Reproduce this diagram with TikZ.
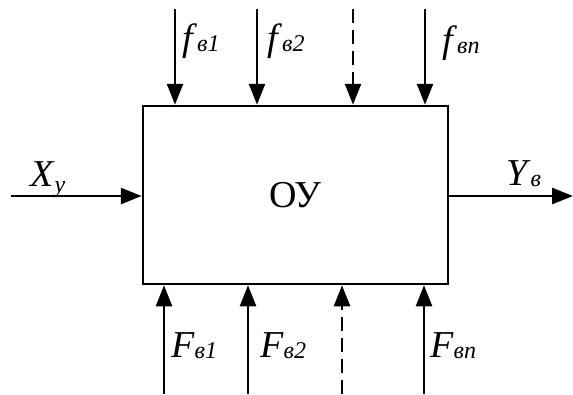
\documentclass[tikz,border=0pt]{standalone}
\usepackage{fontspec}
\setmainfont{Liberation Serif}
\usepackage{tikz}
\usetikzlibrary{arrows.meta,calc}
\newcommand{\lbl}[3][-1.5pt]{\textit{#2}\raisebox{#1}{\fontsize{24}{24}\selectfont\textit{#3}}}

\begin{document}
\begin{tikzpicture}[
  x=1pt, y=-1pt,
  ou/.style={draw, line width=2.5pt, minimum width=305pt, minimum height=178pt, inner sep=0pt, font=\fontsize{38}{38}\selectfont},
  lab/.style={anchor=base west, inner sep=0pt, font=\fontsize{38}{38}\selectfont},
  arr/.style={-{Triangle[length=21pt,width=16pt]}, line width=2.5pt},
  dsh/.style={dash pattern=on 14pt off 7pt}
]
\useasboundingbox (0,0) rectangle (573,394);
\node[ou] (obj) at (295.5,195) {ОУ};

% top disturbances
\coordinate (ft1) at (175,9);
\coordinate (ft2) at (257,9);
\coordinate (ftd) at (353,9);
\coordinate (ftn) at (425,9);
\draw[arr] (ft1) -- (ft1 |- obj.north);
\draw[arr] (ft2) -- (ft2 |- obj.north);
\draw[arr, dsh] (ftd) -- (ftd |- obj.north);
\draw[arr] (ftn) -- (ftn |- obj.north);
\node[lab] (f1) at (182,50) {\lbl{f}{в1}};
\node[lab] (f2) at (267,50) {\lbl{f}{в2}};
\node[lab] (fn) at (442,52) {\lbl{f}{вn}};

% bottom controls
\coordinate (fb1) at (164,394);
\coordinate (fb2) at (248,394);
\coordinate (fbd) at (342,394);
\coordinate (fbn) at (424,394);
\draw[arr] (fb1) -- (fb1 |- obj.south);
\draw[arr] (fb2) -- (fb2 |- obj.south);
\draw[arr, dsh] (fbd) -- (fbd |- obj.south);
\draw[arr] (fbn) -- (fbn |- obj.south);
\node[lab] (F1) at (171,357) {\lbl{F}{в1}};
\node[lab] (F2) at (260,357) {\lbl{F}{в2}};
\node[lab] (Fn) at (430,357) {\lbl{F}{вn}};

% input and output
\coordinate (xin) at (11,196);
\coordinate (yout) at (573,196);
\draw[arr] (xin) -- (xin -| obj.west);
\draw[arr] (obj.east |- yout) -- (yout);
\node[lab] (Xy) at (30,186) {\lbl[-6pt]{X}{y}};
\node[lab] (Yv) at (506,185) {\lbl{Y}{в}};
\end{tikzpicture}
\end{document}
